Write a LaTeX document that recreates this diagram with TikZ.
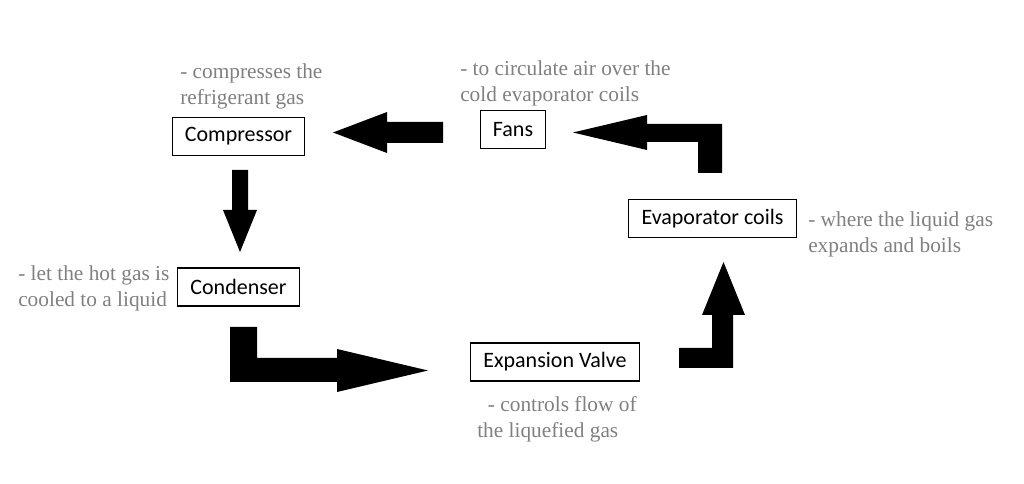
\documentclass[tikz,border=0pt]{standalone}
\usepackage{fontspec}
\setmainfont{Liberation Serif}
\newfontfamily\partfont{Carlito}
\definecolor{notegray}{RGB}{128,128,128}
\tikzset{
  part/.style={draw, line width=0.9pt, font=\partfont\fontsize{16.5}{19}\selectfont,
    inner xsep=9.5pt, minimum height=28.5pt},
  note/.style={text=notegray, font=\fontsize{16}{19.5}\selectfont, align=left,
    inner sep=0pt, anchor=base west},
  blockarrow/.style={fill=black}
}
\begin{document}
\begin{tikzpicture}[x=0.75pt,y=-0.75pt]
     \useasboundingbox (0,0) rectangle (1024,484);
     % boxes
     \node[part] (comp) at (238.5,136.5){Compressor};
     \node[part] (fans) at (513,129.5){Fans};
     \node[part] (evap) at (712.5,218.5){Evaporator coils};
     \node[part] (cond) at (238.5,287){Condenser};
     \node[part] (valve) at (555,362){Expansion Valve};
     % notes (anchored at the baseline of the last line)
     \node[note] (compnote) at (180,105){- compresses the\\refrigerant gas};
     \node[note] (fansnote) at (460,102){- to circulate air over the\\cold evaporator coils};
     \node[note] (evapnote) at (808,253){- where the liquid gas\\expands and boils};
     \node[note] (condnote) at (18,307){- let the hot gas is\\cooled to a liquid};
     \node[note] (valvenote) at (477,437){\ \ - controls flow of\\the liquefied gas};
     % arrows
     \fill[blockarrow] (443,122) -- (387,122) -- (387,112) -- (333,132.5) -- (387,153) -- (387,143) -- (443,143) -- cycle;
     \fill[blockarrow] (722,173) -- (722,124) -- (647,124) -- (647,115) -- (573,132.5) -- (647,150) -- (647,142) -- (698,142) -- (698,173) -- cycle;
     \fill[blockarrow] (232,170) -- (248,170) -- (248,210) -- (257,210) -- (240,252) -- (223,210) -- (232,210) -- cycle;
     \fill[blockarrow] (230,327) -- (257,327) -- (257,358) -- (337,358) -- (337,349) -- (428,370.5) -- (337,392) -- (337,382) -- (230,382) -- cycle;
     \fill[blockarrow] (679,348) -- (712,348) -- (712,315) -- (702,315) -- (723.5,262) -- (745,315) -- (733,315) -- (733,368) -- (679,368) -- cycle;
\end{tikzpicture}
\end{document}
